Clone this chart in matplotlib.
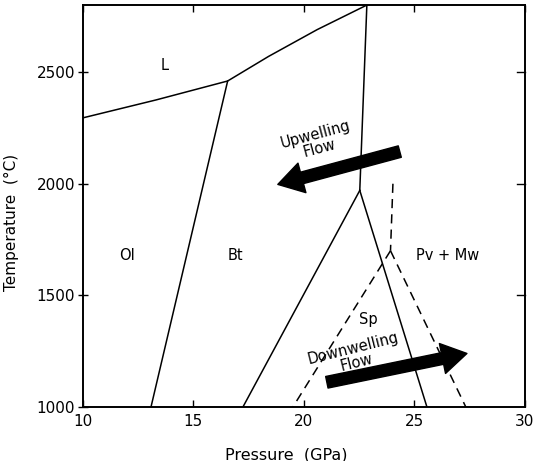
import matplotlib.pyplot as plt

# phase boundaries (pressure in GPa, temperature in C)
liq_p = [10.0, 13.3, 16.55, 18.4, 20.6, 22.85]
liq_t = [2295, 2375, 2460, 2570, 2690, 2800]

ol_bt_p = [16.55, 13.08]
ol_bt_t = [2460, 1000]

bt_pv_p = [22.85, 22.53]
bt_pv_t = [2800, 1970]

bt_sp_p = [22.53, 17.24]
bt_sp_t = [1970, 1000]

sp_pv_p = [22.53, 25.57]
sp_pv_t = [1970, 1000]

# dashed boundaries
dash_top_p = [24.03, 23.92]
dash_top_t = [2000, 1700]
dash_left_p = [23.92, 19.5]
dash_left_t = [1700, 1000]
dash_right_p = [23.92, 27.33]
dash_right_t = [1700, 1000]

# flow arrows: (tail, tip)
up_tail, up_tip = (24.34, 2144), (18.82, 1997)
down_tail, down_tip = (21.04, 1111), (27.38, 1240)

# field labels
labels = ["L", "Ol", "Bt", "Pv + Mw", "Sp"]
label_p = [13.7, 12.0, 16.9, 26.5, 22.9]
label_t = [2530, 1677, 1677, 1677, 1390]

x_ticks = [10, 15, 20, 25, 30]
y_ticks = [1000, 1500, 2000, 2500]

fig = plt.figure(figsize=(5.35, 4.61), dpi=100)
ax = fig.add_axes([0.155, 0.117, 0.826, 0.872])

lw = 1.1
ax.plot(liq_p, liq_t, color="black", lw=lw)
for p, t in [(ol_bt_p, ol_bt_t), (bt_pv_p, bt_pv_t), (bt_sp_p, bt_sp_t), (sp_pv_p, sp_pv_t)]:
    ax.plot(p, t, color="black", lw=lw)
for p, t in [(dash_top_p, dash_top_t), (dash_left_p, dash_left_t), (dash_right_p, dash_right_t)]:
    ax.plot(p, t, color="black", lw=lw, linestyle=(0, (6, 4)))

arrow_style = "simple,head_length=1.8,head_width=2.2,tail_width=0.85"
ax.annotate("", xy=up_tip, xytext=up_tail,
            arrowprops=dict(arrowstyle=arrow_style, color="black", mutation_scale=10,
                            shrinkA=0, shrinkB=0))
ax.annotate("", xy=down_tip, xytext=down_tail,
            arrowprops=dict(arrowstyle=arrow_style, color="black", mutation_scale=10,
                            shrinkA=0, shrinkB=0))

ax.text(20.63, 2190, "Upwelling\nFlow", rotation=15, ha="center", va="center",
        fontsize=10.5, linespacing=0.95, rotation_mode="anchor")
ax.text(22.31, 1231, "Downwelling\nFlow", rotation=14, ha="center", va="center",
        fontsize=10.5, linespacing=0.95, rotation_mode="anchor")

for s, p, t in zip(labels, label_p, label_t):
    ax.text(p, t, s, ha="center", va="center", fontsize=10.5)

ax.set_xlim(10, 30)
ax.set_ylim(1000, 2800)
ax.set_xticks(x_ticks)
ax.set_yticks(y_ticks)
ax.tick_params(axis="x", direction="in", length=5, width=1, top=True, labelsize=11, pad=5)
ax.tick_params(axis="y", direction="inout", length=7, width=1, right=False, labelsize=11, pad=2)
for t in y_ticks[1:]:
    ax.plot([29.65, 30], [t, t], color="black", lw=1, clip_on=False)
for sp in ax.spines.values():
    sp.set_linewidth(1.4)

ax.set_xlabel("Pressure  (GPa)", fontsize=11.5)
ax.set_ylabel("Temperature  (°C)", fontsize=11)
ax.xaxis.set_label_coords(0.459, -0.1)
ax.yaxis.set_label_coords(-0.145, 0.46)

fig.savefig("out.png", dpi=100)
